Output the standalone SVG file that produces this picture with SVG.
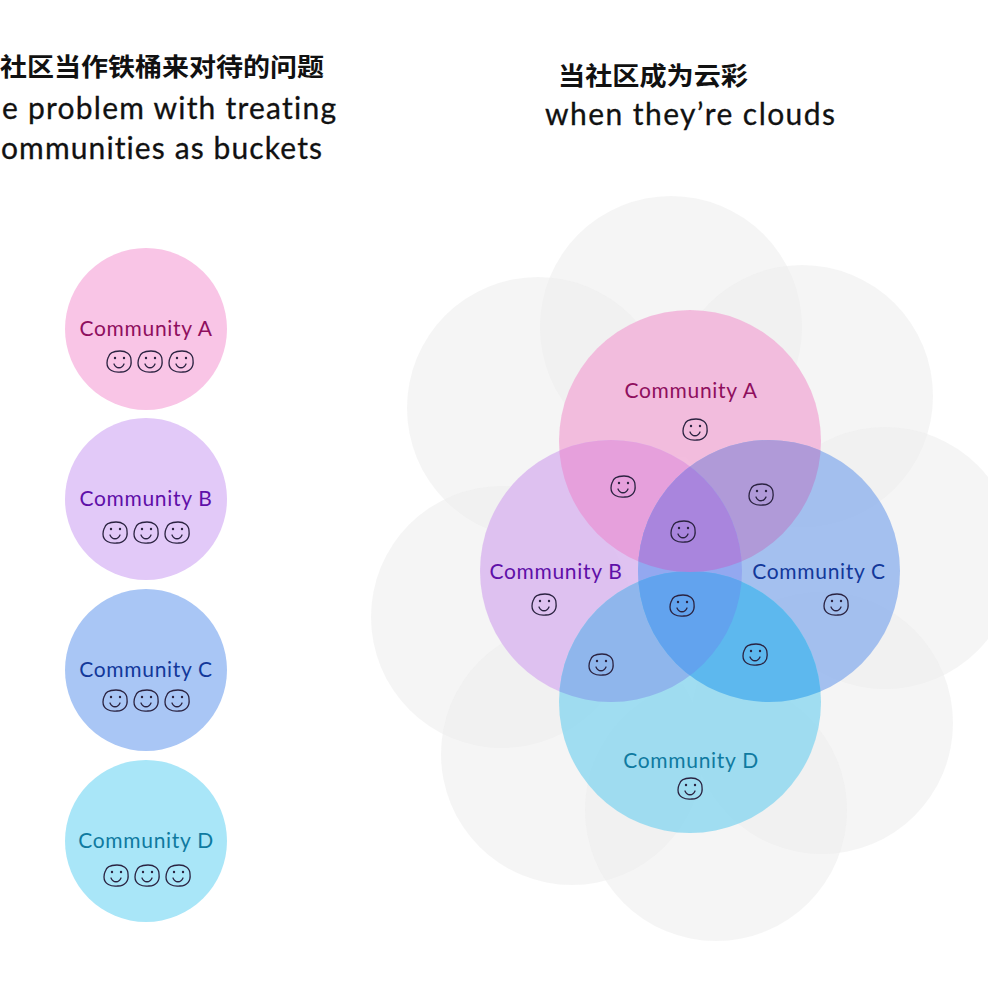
<svg xmlns="http://www.w3.org/2000/svg" width="988" height="988" viewBox="0 0 988 988">
<style>
.zh{font-family:"Noto Sans CJK SC",sans-serif;font-weight:700;font-size:25px;fill:#111}
.en{font-family:"Lato","Noto Sans",sans-serif;font-size:30px;fill:#111;stroke:#111;stroke-width:.3;font-variant-ligatures:none}
.lb{font-family:"Lato","Noto Sans",sans-serif;font-size:21px;text-anchor:middle;letter-spacing:.7px;font-variant-ligatures:none}
.g{fill:#ececec;fill-opacity:.55}
.face{fill:none;stroke:#2a2240;stroke-width:1.3;stroke-linecap:round}
</style>
<defs>
<clipPath id="cA"><circle cx="690" cy="441" r="131"/></clipPath>
<clipPath id="cB"><circle cx="611" cy="571" r="131"/></clipPath>
<clipPath id="cC"><circle cx="769" cy="571" r="131"/></clipPath>
<clipPath id="cD"><circle cx="690" cy="702" r="131"/></clipPath>
<g id="smile"><path class="face" d="M-11-4C-10-10-4-11 1-11C7-11 12-8 12-2C13 5 9 10 2 10C-5 11-12 8-12 1C-12-1-12-2-11-4Z"/><path class="face" d="M-5 2C-3 7 3 7 5 2"/><circle cx="-4" cy="-4" r="1.2" fill="#2a2240"/><circle cx="5" cy="-4" r="1.2" fill="#2a2240"/></g>
</defs>
<rect width="988" height="988" fill="#fff"/>
<g id="title-left">
<text class="zh" x="0" y="76" textLength="324" lengthAdjust="spacingAndGlyphs">社区当作铁桶来对待的问题</text>
<text class="en" x="2" y="119" textLength="334">e problem with treating</text>
<text class="en" x="1" y="159" textLength="321">ommunities as buckets</text>
</g>
<g id="title-right">
<text class="zh" x="558" y="85" textLength="190" lengthAdjust="spacingAndGlyphs">当社区成为云彩</text>
<text class="en" x="545" y="125" textLength="290">when they’re clouds</text>
</g>
<g id="buckets">
<g id="bucket-a"><circle cx="146" cy="329" r="81" fill="#f9c5e6"/><text class="lb" x="146" y="336" fill="#8f0f5e">Community A</text><use href="#smile" x="119" y="362"/><use href="#smile" x="150" y="362"/><use href="#smile" x="181" y="362"/></g>
<g id="bucket-b"><circle cx="146" cy="499" r="81" fill="#e2c9f8"/><text class="lb" x="146" y="506" fill="#5f0fa8">Community B</text><use href="#smile" x="115" y="533"/><use href="#smile" x="146" y="533"/><use href="#smile" x="177" y="533"/></g>
<g id="bucket-c"><circle cx="146" cy="670" r="81" fill="#a9c6f5"/><text class="lb" x="146" y="677" fill="#12389a">Community C</text><use href="#smile" x="115" y="701"/><use href="#smile" x="146" y="701"/><use href="#smile" x="177" y="701"/></g>
<g id="bucket-d"><circle cx="146" cy="841" r="81" fill="#a9e6f8"/><text class="lb" x="146" y="848" fill="#0f7aa0">Community D</text><use href="#smile" x="116" y="876"/><use href="#smile" x="147" y="876"/><use href="#smile" x="178" y="876"/></g>
</g>
<g id="clouds">
<circle class="g" cx="671" cy="327" r="131"/><circle class="g" cx="802" cy="396" r="131"/><circle class="g" cx="538" cy="408" r="131"/><circle class="g" cx="885" cy="558" r="131"/><circle class="g" cx="502" cy="617" r="131"/><circle class="g" cx="822" cy="723" r="131"/><circle class="g" cx="572" cy="754" r="131"/><circle class="g" cx="716" cy="810" r="131"/>
</g>
<g id="community-a"><circle cx="690" cy="441" r="131" fill="#f2b6da" fill-opacity=".9"/></g>
<g id="community-b"><circle cx="611" cy="571" r="131" fill="#dcbbf0" fill-opacity=".9"/></g>
<g id="community-c"><circle cx="769" cy="571" r="131" fill="#9cbbee" fill-opacity=".92"/></g>
<g id="community-d"><circle cx="690" cy="702" r="131" fill="#98daf0" fill-opacity=".92"/></g>
<g id="overlaps">
<g clip-path="url(#cA)"><circle cx="611" cy="571" r="131" fill="#e6a0dc"/><circle cx="769" cy="571" r="131" fill="#b09ad8"/></g>
<g clip-path="url(#cB)"><circle cx="769" cy="571" r="131" fill="#93a8f0"/></g>
<g clip-path="url(#cD)"><circle cx="611" cy="571" r="131" fill="#8fb6ec"/><circle cx="769" cy="571" r="131" fill="#5db8ee"/><g clip-path="url(#cB)"><circle cx="769" cy="571" r="131" fill="#62a3ee"/></g></g>
<g clip-path="url(#cA)"><g clip-path="url(#cB)"><circle cx="769" cy="571" r="131" fill="#a985dd"/></g></g>
</g>
<g id="labels">
<text class="lb" x="691" y="398" fill="#8f0f5e">Community A</text>
<text class="lb" x="556" y="579" fill="#5f0fa8">Community B</text>
<text class="lb" x="819" y="579" fill="#12389a">Community C</text>
<text class="lb" x="691" y="768" fill="#0f7aa0">Community D</text>
<use href="#smile" x="695" y="430"/><use href="#smile" x="623" y="487"/><use href="#smile" x="761" y="495"/><use href="#smile" x="683" y="532"/><use href="#smile" x="544" y="605"/><use href="#smile" x="682" y="606"/><use href="#smile" x="836" y="605"/><use href="#smile" x="601" y="665"/><use href="#smile" x="755" y="655"/><use href="#smile" x="690" y="789"/>
</g>
</svg>
